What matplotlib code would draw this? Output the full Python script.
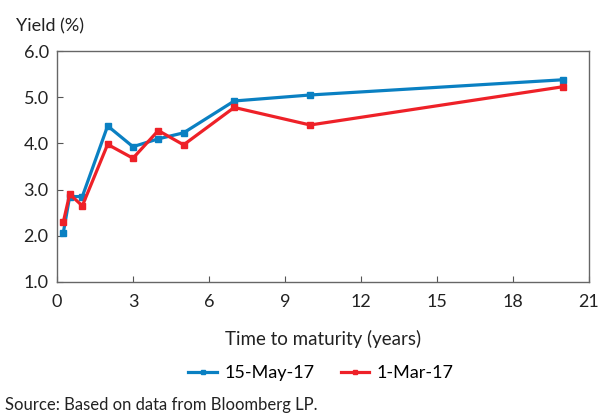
import matplotlib
matplotlib.use("Agg")
import matplotlib.pyplot as plt

# ------------------------------------------------------
# Data: yield curve at two dates
# ------------------------------------------------------
maturity = [0.25, 0.5, 1, 2, 3, 4, 5, 7, 10, 20]
may_17 = [2.07, 2.85, 2.85, 4.38, 3.93, 4.10, 4.23, 4.92, 5.05, 5.38]
mar_17 = [2.30, 2.90, 2.65, 3.98, 3.68, 4.28, 3.97, 4.78, 4.40, 5.23]
series_labels = ["15-May-17", "1-Mar-17"]
x_ticks = [0, 3, 6, 9, 12, 15, 18, 21]
y_ticks = [1.0, 2.0, 3.0, 4.0, 5.0, 6.0]

plt.rcParams['font.family'] = ['Lato', 'DejaVu Sans']

fig = plt.figure(figsize=(6.09, 4.19), dpi=100)
ax = fig.add_axes([0.0936, 0.327, 0.873, 0.551])

ax.plot(maturity, may_17, marker='s', markersize=5, linewidth=2.3,
        color='#0a80c2', label=series_labels[0])
ax.plot(maturity, mar_17, marker='s', markersize=5, linewidth=2.3,
        color='#ee2128', label=series_labels[1])

ax.set_xlim(0, 21)
ax.set_ylim(1.0, 6.0)
ax.set_xticks(x_ticks)
ax.set_yticks(y_ticks)
ax.set_yticklabels([f"{v:.1f}" for v in y_ticks])
ax.tick_params(direction='in', length=4, color='#555555', labelsize=13,
               labelcolor='#222222', pad=6)
ax.tick_params(axis='x', pad=9)
for s in ax.spines.values():
    s.set_color('#666666')
    s.set_linewidth(1.0)

ax.set_xlabel("Time to maturity (years)", fontsize=13.5, color='#222222', labelpad=14)
fig.text(0.026, 0.925, "Yield (%)", fontsize=13, color='#222222')

fig.legend(loc='center', bbox_to_anchor=(0.527, 0.11), ncol=2, frameon=False,
           fontsize=13, handlelength=1.6, handletextpad=0.4, columnspacing=1.45,
           markerscale=0.7)
fig.text(0.008, 0.022, "Source: Based on data from Bloomberg LP.", fontsize=12,
         color='#222222')

fig.savefig("out.png", dpi=100)
